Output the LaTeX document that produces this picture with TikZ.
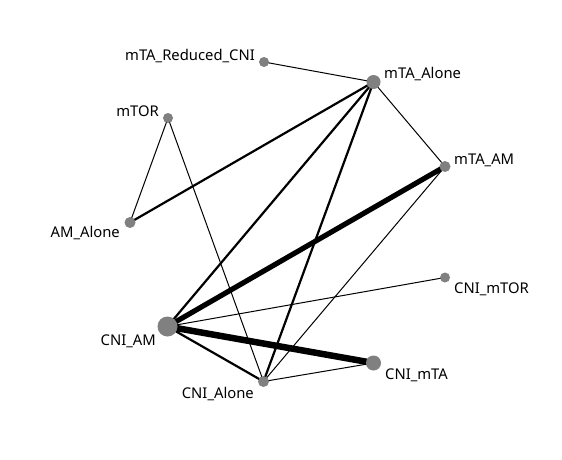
\documentclass[tikz,border=0pt]{standalone}
\usepackage{fontspec}
\setmainfont{Noto Sans}
\usepackage{xcolor}
\usepackage{tikz}
\usetikzlibrary{positioning, backgrounds}

\definecolor{dotgray}{HTML}{808080}

\begin{document}
\begin{tikzpicture}[
    x=1pt, y=-1pt,
    trt/.style={circle, fill=dotgray, inner sep=0pt, minimum size=#1},
    trt/.default=10pt,
    lbl/.style={font=\fontsize{14.8}{17}\selectfont, inner sep=0pt},
    lite/.style={line width=1pt},
    mid/.style={line width=2.2pt},
    heavy/.style={line width=#1}
]

\useasboundingbox (0,0) rectangle (562,460);

% Treatments
\node[trt] (redcni) at (264,62) {};
\node[trt=14pt] (alone) at (373.5,82) {};
\node[trt] (mtor) at (168,118) {};
\node[trt=11pt] (mtaam) at (445,166.5) {};
\node[trt=11pt] (amalone) at (130,222.5) {};
\node[trt] (cnimtor) at (445,277.5) {};
\node[trt=20pt] (cniam) at (167.5,326.5) {};
\node[trt=15pt] (cnimta) at (373.5,363) {};
\node[trt=11pt] (cnialone) at (263.5,381.5) {};

% Labels
\node[lbl, anchor=base east] (redcni-l) at (255,61) {mTA\_Reduced\_CNI};
\node[lbl, anchor=base west] (alone-l) at (384,78) {mTA\_Alone};
\node[lbl, anchor=base east] (mtor-l) at (159,116) {mTOR};
\node[lbl, anchor=base west] (mtaam-l) at (454,164) {mTA\_AM};
\node[lbl, anchor=base east] (amalone-l) at (120,237) {AM\_Alone};
\node[lbl, anchor=base west] (cnimtor-l) at (454,293) {CNI\_mTOR};
\node[lbl, anchor=base east] (cniam-l) at (156,345) {CNI\_AM};
\node[lbl, anchor=base west] (cnimta-l) at (385,379) {CNI\_mTA};
\node[lbl, anchor=base east] (cnialone-l) at (254,398) {CNI\_Alone};

% Comparisons
\begin{scope}[on background layer]
    \fill[white] (0,0) rectangle (562,460);
    \draw[lite] (redcni.center) -- (alone.center);
    \draw[lite] (alone.center) -- (mtaam.center);
    \draw[mid] (alone.center) -- (amalone.center);
    \draw[mid] (alone.center) -- (cniam.center);
    \draw[mid] (alone.center) -- (cnialone.center);
    \draw[lite] (mtor.center) -- (amalone.center);
    \draw[lite] (mtor.center) -- (cnialone.center);
    \draw[heavy=5.2pt] (mtaam.center) -- (cniam.center);
    \draw[lite] (mtaam.center) -- (cnialone.center);
    \draw[lite] (cnimtor.center) -- (cniam.center);
    \draw[heavy=6.5pt] (cniam.center) -- (cnimta.center);
    \draw[mid] (cniam.center) -- (cnialone.center);
    \draw[lite] (cnialone.center) -- (cnimta.center);
\end{scope}

\end{tikzpicture}
\end{document}
